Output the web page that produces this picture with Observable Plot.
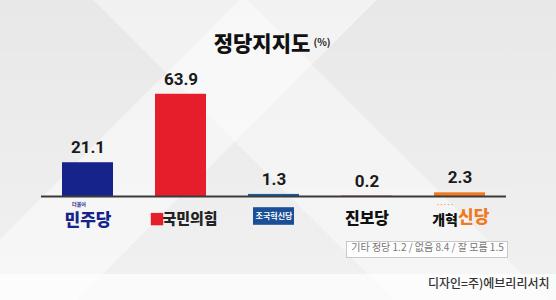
<!DOCTYPE html>
<html>
<head>
<meta charset="utf-8">
<script src="https://cdn.jsdelivr.net/npm/d3@7"></script>
<script src="https://cdn.jsdelivr.net/npm/@observablehq/plot@0.6"></script>
<style>
  html, body { margin: 0; padding: 0; }
  body { width: 556px; height: 300px; overflow: hidden; font-family: "Noto Sans CJK KR", "Noto Sans", "DejaVu Sans", sans-serif; }
  #wrap {
    position: relative; width: 556px; height: 300px;
    background:
      linear-gradient(135deg, rgba(255,255,255,0) 0 28%, rgba(255,255,255,0.45) 28% 44%, rgba(255,255,255,0) 44% 100%),
      linear-gradient(45deg, rgba(255,255,255,0) 0 46%, rgba(255,255,255,0.4) 46% 64%, rgba(255,255,255,0) 64% 100%),
      linear-gradient(to bottom, #e8e8e8 0px, #f0f0f0 274px, #fafafa 274px, #fafafa 300px);
  }
  #note {
    position: absolute; left: 346px; top: 241px; width: 160px; height: 15px;
    border: 1px solid #c8c8c8; background: rgba(255,255,255,0.85);
  }
  #chart { position: absolute; left: 0; top: 0; }
</style>
</head>
<body>
<div id="wrap"><div id="note"></div><div id="chart"></div></div>
<script>
const parties = ["더불어민주당", "국민의힘", "조국혁신당", "진보당", "개혁신당"];
const values = [21.1, 63.9, 1.3, 0.2, 2.3];
const colors = ["#15238a", "#e61e2b", "#1b5aa3", "#d7141e", "#f07a22"];
const titleText = "정당지지도";
const unitText = "(%)";
const noteText = "기타 정당 1.2 / 없음 8.4 / 잘 모름 1.5";
const footerText = "디자인=주)에브리리서치";

const data = parties.map((p, i) => ({party: p, value: values[i], color: colors[i]}));
const font = "Noto Sans CJK KR";
const logoY = -13.5; // in value units below baseline

const chart = Plot.plot({
  width: 556,
  height: 300,
  marginTop: 84,
  marginBottom: 104,
  marginLeft: 41,
  marginRight: 50,
  style: {background: "transparent", fontFamily: font},
  x: {domain: parties, paddingInner: 0.45, paddingOuter: 0.225, axis: null},
  y: {domain: [0, 70], axis: null},
  marks: [
    Plot.barY(data, {x: "party", y: "value", fill: "color"}),
    Plot.ruleY([0], {stroke: "#3a3a3a", strokeWidth: 2}),
    Plot.text(data, {x: "party", y: "value", text: d => d.value.toFixed(1), dy: -15, fontSize: 17, fontWeight: "bold", fill: "#1a1a1a", fontFamily: "Roboto"}),
    // title
    Plot.text([titleText], {frameAnchor: "top", dy: -48, dx: -12, text: d => d, fontSize: 21, fontWeight: 900, fill: "#111", fontFamily: font}),
    Plot.text([unitText], {frameAnchor: "top", dy: -46, dx: 48, text: d => d, fontSize: 10, fontWeight: "bold", fill: "#222", fontFamily: font}),
    // logos as styled text
    Plot.text([parties[0]], {x: d => d, y: logoY, dx: -9, dy: -14, text: () => "더불어", fontSize: 5, fontWeight: "bold", fill: colors[0], fontFamily: font}),
    Plot.text([parties[0]], {x: d => d, y: logoY, dy: 2, text: () => "민주당", fontSize: 17, fontWeight: 900, fill: colors[0], fontFamily: font}),
    Plot.dot([parties[1]], {x: d => d, y: logoY, dx: -24, dy: 1, symbol: "square", r: 7, fill: colors[1]}),
    Plot.text([parties[1]], {x: d => d, y: logoY, dx: 9, dy: 1, text: () => "국민의힘", fontSize: 15, fontWeight: 900, fill: "#222", fontFamily: font}),
    Plot.rect([parties[2]], {x: d => d, y1: -7, y2: -18, insetLeft: 5, insetRight: 5, fill: "#1a4f97"}),
    Plot.text([parties[2]], {x: d => d, y: logoY + 1, text: () => "조국혁신당", fontSize: 8, fontWeight: "bold", fill: "white", fontFamily: font}),
    Plot.text([parties[3]], {x: d => d, y: logoY, dy: 1, text: () => "진보당", fontSize: 16, fontWeight: 900, fill: "#111", fontFamily: font}),
    Plot.text([parties[4]], {x: d => d, y: logoY, dx: -2, dy: 2, textAnchor: "end", text: () => "개혁", fontSize: 14, fontWeight: 900, fill: "#111", fontFamily: font}),
    Plot.text([parties[4]], {x: d => d, y: logoY, dx: -15, dy: -13, text: () => "·····", fontSize: 6, fontWeight: "bold", fill: colors[4], fontFamily: font}),
    Plot.text([parties[4]], {x: d => d, y: logoY, dx: -2, dy: -1, textAnchor: "start", text: () => "신당", fontSize: 17, fontWeight: 900, fill: colors[4], fontFamily: font}),
    // note and footer
    Plot.text([noteText], {frameAnchor: "bottom-right", dx: -79, dy: 54, text: d => d, textAnchor: "middle", fontSize: 10, fill: "#777", fontFamily: font}),
    Plot.text([footerText], {frameAnchor: "bottom-right", dx: 43, dy: 91, textAnchor: "end", text: d => d, fontSize: 12, fontWeight: 500, fill: "#333", fontFamily: font})
  ]
});
document.getElementById("chart").appendChild(chart);
</script>
</body>
</html>
